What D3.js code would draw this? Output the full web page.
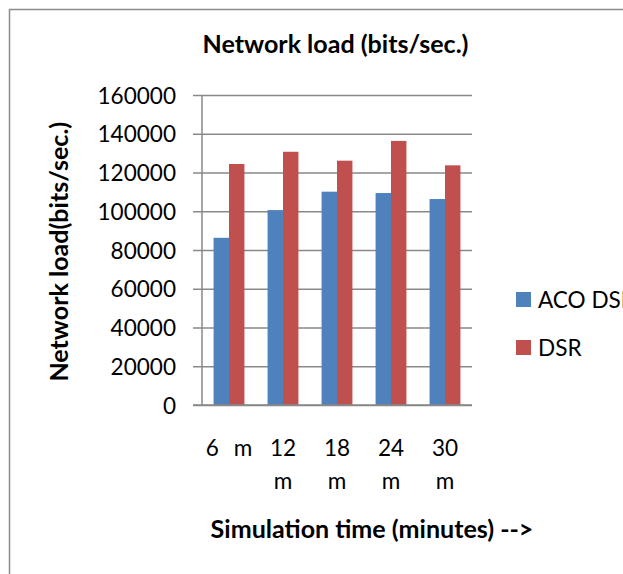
<!DOCTYPE html>
<html>
<head>
<meta charset="utf-8">
<script src="https://cdn.jsdelivr.net/npm/d3@7/dist/d3.min.js"></script>
<style>
body { margin: 0; background: #fff; }
svg { display: block; }
text { font-family: Lato, "Open Sans", sans-serif; fill: #000; }
</style>
</head>
<body>
<svg id="chart" width="623" height="574"></svg>
<script>
var categories = ['6 m', '12 m', '18 m', '24 m', '30 m'];
var series_names = ['ACO DSR', 'DSR'];
var aco_dsr = [86300, 100600, 110100, 109400, 106300];
var dsr = [124400, 130700, 126100, 136300, 123700];
var y_ticks = [0, 20000, 40000, 60000, 80000, 100000, 120000, 140000, 160000];
var colors = ['#4F81BD', '#C0504D'];

var svg = d3.select('#chart');

// plot area (window.top is taken, so prefixed names)
var plot_left = 202, plot_right = 472, plot_top = 95, plot_bottom = 405;

// scale a text's font-size so it spans the wanted width
var fit = function(sel, w) {
    var fs = parseFloat(sel.attr('font-size'));
    var len = sel.node().getComputedTextLength();
    sel.attr('font-size', fs * w / len);
    return fs * w / len;
};

// chart border (runs off the right/bottom edge)
svg.append('rect')
    .attr('x', 9.5).attr('y', 9.5)
    .attr('width', 800).attr('height', 800)
    .attr('fill', 'none')
    .attr('stroke', '#8c8c8c')
    .attr('stroke-width', 1.5);

var x = d3.scaleBand().domain(categories).range([plot_left, plot_right]);
var step = x.step();
// Excel gap width 150%
var bar_w = step / 3.5;
var xs = d3.scaleBand().domain(series_names)
    .range([(step - 2 * bar_w) / 2, (step + 2 * bar_w) / 2]);
var y = d3.scaleLinear().domain([0, 160000]).range([plot_bottom, plot_top]);

// label size measured off "160000"
var probe = svg.append('text').attr('font-size', 20).text('160000');
var tick_fs = fit(probe, 78.5);
probe.remove();

// gridlines + ticks
svg.append('g')
    .attr('transform', 'translate(' + plot_left + ',0)')
    .call(d3.axisLeft(y).tickValues(y_ticks).tickFormat(d3.format('d'))
        .tickSizeInner(-(plot_right - plot_left)).tickSizeOuter(0).tickPadding(0))
    .call(function(g) {
        g.select('.domain').remove();
        g.selectAll('.tick line')
            .attr('x1', -9)
            .attr('stroke', '#898989')
            .attr('stroke-width', 1.5);
        g.selectAll('.tick text')
            .attr('x', -26)
            .attr('dy', '0.36em')
            .attr('font-size', tick_fs)
            .style('font-family', 'Lato, "Open Sans", sans-serif')
            .attr('fill', '#000');
    });

// y axis line
svg.append('line')
    .attr('x1', plot_left).attr('x2', plot_left)
    .attr('y1', plot_top).attr('y2', plot_bottom)
    .attr('stroke', '#898989')
    .attr('stroke-width', 1.5);

// bars
var groups = svg.append('g').selectAll('g')
    .data(categories)
    .enter()
    .append('g')
    .attr('transform', function(d) { return 'translate(' + x(d) + ',0)'; });

groups.selectAll('rect')
    .data(function(d, i) {
        return [
            {name: series_names[0], value: aco_dsr[i], k: 0},
            {name: series_names[1], value: dsr[i], k: 1}
        ];
    })
    .enter()
    .append('rect')
    .attr('x', function(d) { return xs(d.name); })
    .attr('width', xs.bandwidth())
    .attr('y', function(d) { return y(d.value); })
    .attr('height', function(d) { return plot_bottom - y(d.value); })
    .attr('fill', function(d) { return colors[d.k]; });

// bottom axis line on top of bars
svg.append('line')
    .attr('x1', plot_left - 9).attr('x2', plot_right)
    .attr('y1', plot_bottom).attr('y2', plot_bottom)
    .attr('stroke', '#898989')
    .attr('stroke-width', 1.5);

// category labels, wrapped like Excel does
svg.append('g').selectAll('text')
    .data(categories)
    .enter()
    .append('text')
    .attr('font-size', tick_fs)
    .attr('text-anchor', 'middle')
    .attr('x', function(d) { return x(d) + step / 2; })
    .attr('y', 456)
    .each(function(d) {
        var t = d3.select(this);
        var words = d.split(' ');
        t.text(d);
        if (words[0].length > 1) {
            t.text(null);
            words.forEach(function(w, i) {
                t.append('tspan')
                    .attr('x', x(d) + step / 2)
                    .attr('dy', i ? 33 : 0)
                    .text(w);
            });
        } else {
            t.attr('word-spacing', 9);
        }
    });

// title
var title = svg.append('text')
    .attr('x', 335.5).attr('y', 53)
    .attr('text-anchor', 'middle')
    .attr('font-weight', 'bold')
    .attr('font-size', 20)
    .text('Network load (bits/sec.)');
var bold_fs = fit(title, 266);

// y axis title
svg.append('text')
    .attr('transform', 'translate(68,251.7) rotate(-90)')
    .attr('text-anchor', 'middle')
    .attr('font-weight', 'bold')
    .attr('font-size', bold_fs)
    .text('Network load(bits/sec.)');

// x axis title
svg.append('text')
    .attr('x', 372).attr('y', 538)
    .attr('text-anchor', 'middle')
    .attr('font-weight', 'bold')
    .attr('font-size', bold_fs)
    .text('Simulation time (minutes) -->');

// legend
var legend = svg.append('g').selectAll('g')
    .data(series_names)
    .enter()
    .append('g')
    .attr('transform', function(d, i) { return 'translate(516,' + (292 + i * 48) + ')'; });

legend.append('rect')
    .attr('width', 15).attr('height', 15)
    .attr('fill', function(d, i) { return colors[i]; });

legend.append('text')
    .attr('x', 22).attr('y', 7.5)
    .attr('dy', '0.36em')
    .attr('font-size', tick_fs)
    .text(function(d) { return d; });
</script>
</body>
</html>
